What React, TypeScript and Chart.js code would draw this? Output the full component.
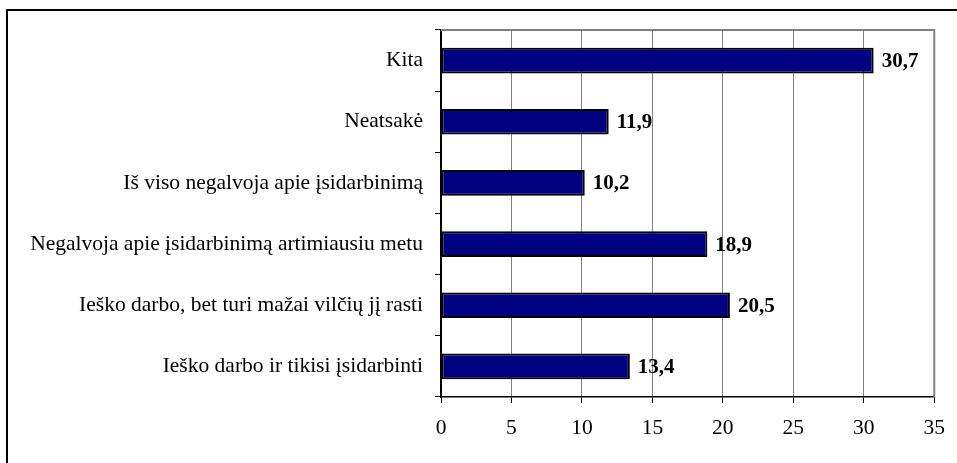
import React, { useEffect, useRef } from "react";
import { Chart, registerables } from "chart.js";

Chart.register(...registerables);

const categories = [
  "Kita",
  "Neatsakė",
  "Iš viso negalvoja apie įsidarbinimą",
  "Negalvoja apie įsidarbinimą artimiausiu metu",
  "Ieško darbo, bet turi mažai vilčių jį rasti",
  "Ieško darbo ir tikisi įsidarbinti",
];
const values = [30.7, 11.9, 10.2, 18.9, 20.5, 13.4];
const xMin = 0;
const xMax = 35;
const xStep = 5;

const FONT = "'Liberation Serif', 'Times New Roman', serif";
const FS = 21.5;

export default function App() {
  const ref = useRef<HTMLCanvasElement | null>(null);
  useEffect(() => {
    if (!ref.current) return;
    const frame = {
      id: "frame",
      beforeDatasetsDraw(chart: any) {
        const { ctx, chartArea: a } = chart;
        ctx.save();
        ctx.strokeStyle = "#808080";
        ctx.lineWidth = 2;
        ctx.beginPath();
        ctx.moveTo(a.left, a.top);
        ctx.lineTo(a.right, a.top);
        ctx.lineTo(a.right, a.bottom);
        ctx.stroke();
        ctx.restore();
      },
    };
    const labels = {
      id: "vlabels",
      afterDatasetsDraw(chart: any) {
        const { ctx } = chart;
        const meta = chart.getDatasetMeta(0);
        ctx.save();
        ctx.fillStyle = "#000";
        ctx.font = `bold 21px ${FONT}`;
        ctx.textBaseline = "middle";
        ctx.textAlign = "left";
        meta.data.forEach((el: any, i: number) => {
          const v = values[i].toFixed(1).replace(".", ",");
          ctx.fillText(v, el.x + 8, el.y + 1);
        });
        ctx.restore();
      },
    };
    const chart = new Chart(ref.current, {
      type: "bar",
      data: {
        labels: categories,
        datasets: [
          {
            data: values,
            backgroundColor: "#000080",
            borderColor: "#000000",
            borderWidth: 2,
            borderSkipped: false,
            barPercentage: 0.42,
            categoryPercentage: 1,
          },
        ],
      },
      options: {
        indexAxis: "y",
        animation: false,
        responsive: false,
        devicePixelRatio: 1,
        layout: { padding: { top: 30, right: 22, left: 0, bottom: 0 } },
        plugins: { legend: { display: false }, tooltip: { enabled: false } },
        scales: {
          x: {
            type: "linear",
            min: xMin,
            max: xMax,
            ticks: {
              stepSize: xStep,
              color: "#000",
              font: { family: FONT, size: FS },
              padding: 12,
              maxRotation: 0,
            },
            grid: {
              color: "#808080",
              lineWidth: 1,
              tickColor: "#000",
              tickLength: 6,
              drawTicks: true,
            },
            border: { color: "#000", width: 1.5 },
            afterFit(scale: any) {
              scale.height = 463 - 397;
            },
          },
          y: {
            ticks: {
              color: "#000",
              font: { family: FONT, size: FS },
              padding: 12,
            },
            grid: {
              drawOnChartArea: false,
              drawTicks: true,
              tickLength: 6,
              tickColor: "#000",
              offset: true,
            },
            border: { color: "#000", width: 2 },
            afterFit(scale: any) {
              scale.width = 441;
            },
          },
        },
      },
      plugins: [frame, labels],
    });
    return () => chart.destroy();
  }, []);
  return (
    <div
      style={{
        position: "fixed",
        left: 0,
        top: 0,
        width: 957,
        height: 463,
        overflow: "hidden",
        background: "#fff",
      }}
    >
      <div
        style={{
          position: "absolute",
          left: 6,
          top: 9,
          width: 2000,
          height: 2000,
          borderLeft: "2px solid #000",
          borderTop: "2px solid #000",
        }}
      />
      <canvas
        ref={ref}
        width={957}
        height={463}
        style={{ position: "absolute", left: 0, top: 0, width: 957, height: 463 }}
      />
    </div>
  );
}
